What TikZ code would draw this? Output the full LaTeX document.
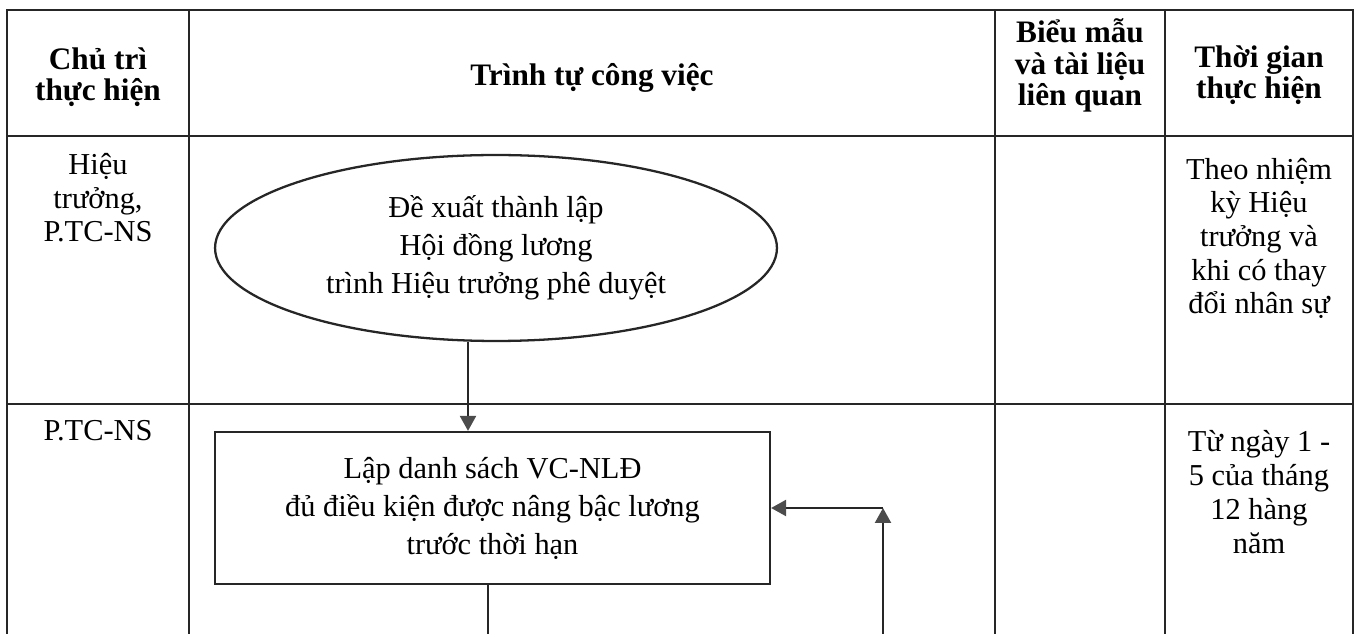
\documentclass[tikz,border=0pt]{standalone}
\usepackage{fontspec}
\setmainfont{Liberation Serif}
\usetikzlibrary{arrows.meta,shapes.geometric}
\begin{document}
\begin{tikzpicture}[x=0.02cm,y=-0.02cm,
	grid/.style={line width=1.1pt,draw=black!85},
	head/.style={font=\fontsize{17.8}{18}\selectfont\bfseries,align=center,anchor=base,inner sep=0pt},
	cell/.style={font=\fontsize{17.3}{19.2}\selectfont,align=center,anchor=base,inner sep=0pt},
	boxtext/.style={font=\fontsize{17.3}{21.6}\selectfont,align=center},
	flow/.style={line width=1.3pt,draw=black!85},
	tip/.style={-{Triangle[length=0.3cm,width=0.32cm,color=black!70]}}]
	\useasboundingbox (0,0) rectangle (1355,634);
	\draw [grid] (7,634) -- (7,10) -- (1353,10) -- (1353,634);
	\draw [grid] (7,136) -- (1353,136);
	\draw [grid] (7,404) -- (1353,404);
	\foreach \x in {189,995,1165}
		\draw [grid] (\x,10) -- (\x,634);
	\node [head] (hOwner) at (98,101) {Chủ trì\\thực hiện};
	\node [head] (hSteps) at (592,86) {Trình tự công việc};
	\node [head] (hForms) at (1080,106) {Biểu mẫu\\và tài liệu\\liên quan};
	\node [head] (hTime) at (1259,99) {Thời gian\\thực hiện};
	\node [cell] (owner1) at (98,242) {Hiệu\\trưởng,\\P.TC-NS};
	\node [cell] (owner2) at (98,440) {P.TC-NS};
	\node [cell] (time1) at (1259,314) {Theo nhiệm\\kỳ Hiệu\\trưởng và\\khi có thay\\đổi nhân sự};
	\node [cell] (time2) at (1259,553) {Từ ngày 1 -\\5 của tháng\\12 hàng\\năm};
	\node [boxtext,ellipse,draw,flow,minimum width=11.24cm,minimum height=3.72cm,inner sep=0pt] (propose) at (496,248) {Đề xuất thành lập\\Hội đồng lương\\trình Hiệu trưởng phê duyệt};
	\node [boxtext,draw,flow,minimum width=11.1cm,minimum height=3.04cm] (list) at (492.5,508) {Lập danh sách VC-NLĐ\\đủ điều kiện được nâng bậc lương\\trước thời hạn};
	\coordinate (loopIn) at (883,634);
	\coordinate (loopTop) at (883,508);
	\draw [flow,tip] (468,0 |- propose.south) -- (468,0 |- list.north);
	\draw [flow] (488,0 |- list.south) -- (488,634);
	\draw [flow,tip] (loopIn) -- (loopTop);
	\draw [flow,tip] (loopTop) -- (loopTop -| list.east);
\end{tikzpicture}
\end{document}
